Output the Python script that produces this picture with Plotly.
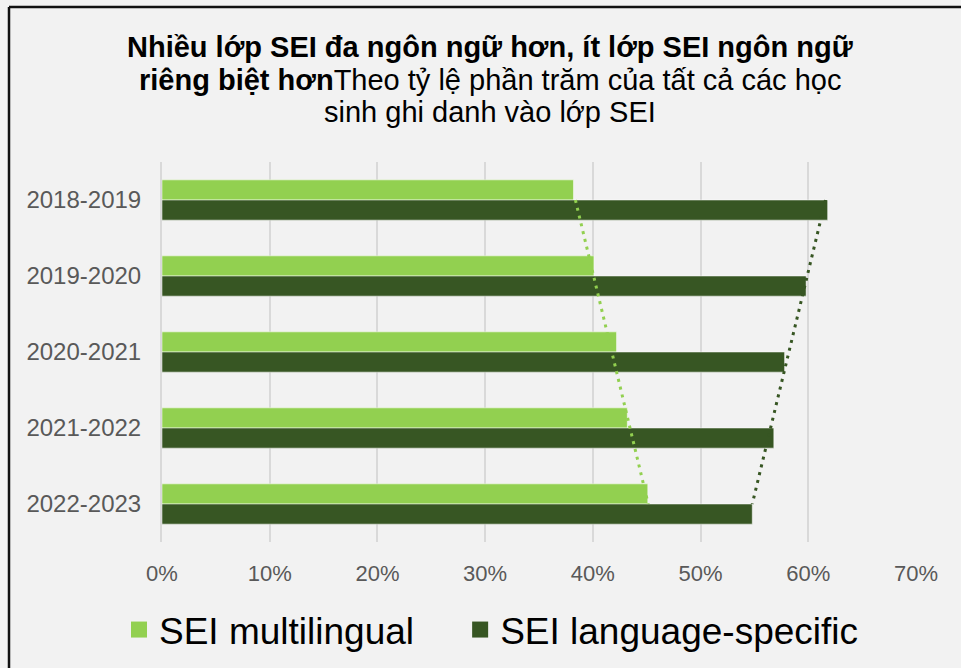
import numpy as np
import plotly.graph_objects as go

years = ["2018-2019", "2019-2020", "2020-2021", "2021-2022", "2022-2023"]
multilingual = [38.2, 40.1, 42.2, 43.2, 45.1]
language_specific = [61.8, 59.8, 57.8, 56.8, 54.8]
x_ticks = [0, 10, 20, 30, 40, 50, 60, 70]
x_tick_labels = ["0%", "10%", "20%", "30%", "40%", "50%", "60%", "70%"]
series_names = ["SEI multilingual", "SEI language-specific"]
title_lines = [
    "<b>Nhiều lớp SEI đa ngôn ngữ hơn, ít lớp SEI ngôn ngữ</b>",
    "<b>riêng biệt hơn</b>Theo tỷ lệ phần trăm của tất cả các học",
    "sinh ghi danh vào lớp SEI",
]

LIGHT = "#92d050"
DARK = "#375623"
FONT = "Liberation Sans, Arial, sans-serif"

# linear trendlines (as in the original chart)
idx = np.arange(len(years))
fit_m = np.polyval(np.polyfit(idx, multilingual, 1), idx)
fit_l = np.polyval(np.polyfit(idx, language_specific, 1), idx)

L, R, T, B = 162, 45, 162, 126
W, H = 961, 668
pw, ph = W - L - R, H - T - B

def px(x):
    return (x - L) / pw

def py(y):
    return (H - B - y) / ph

fig = go.Figure()
fig.add_trace(go.Bar(y=years, x=multilingual, orientation="h", name=series_names[0], showlegend=False,
                     marker=dict(color=LIGHT, line=dict(color="rgba(255,255,255,0.5)", width=1))))
fig.add_trace(go.Bar(y=years, x=language_specific, orientation="h", name=series_names[1], showlegend=False,
                     marker=dict(color=DARK, line=dict(color="rgba(255,255,255,0.5)", width=1))))
fig.add_trace(go.Scatter(y=years, x=fit_m, mode="lines", showlegend=False, hoverinfo="skip",
                         line=dict(color=LIGHT, width=3, dash="3px,5px")))
fig.add_trace(go.Scatter(y=years, x=fit_l, mode="lines", showlegend=False, hoverinfo="skip",
                         line=dict(color=DARK, width=3, dash="3px,5px")))
# legend entries (square swatches)
legend_labels = [series_names[0] + "\u00a0\u00a0\u00a0\u00a0", series_names[1]]
for name, col in zip(legend_labels, [LIGHT, DARK]):
    fig.add_trace(go.Scatter(y=[None], x=[None], mode="markers", name=name,
                             marker=dict(symbol="square", size=16, color=col)))

fig.update_layout(
    width=W, height=H,
    margin=dict(l=L, r=R, t=T, b=B, autoexpand=False),
    paper_bgcolor="#f2f2f2", plot_bgcolor="#f2f2f2",
    font=dict(family=FONT, color="#595959"),
    barmode="group", bargap=0.47, bargroupgap=0,
    xaxis=dict(range=[0, 70], tickvals=x_ticks, ticktext=x_tick_labels,
               showgrid=True, gridcolor="#d9d9d9", gridwidth=1.5, zeroline=False,
               showline=False, ticks="", ticklabelstandoff=16,
               tickfont=dict(size=22, color="#595959")),
    yaxis=dict(autorange="reversed", showgrid=False, showline=True, linecolor="#d9d9d9",
               linewidth=2, ticks="", ticklabelstandoff=14,
               tickfont=dict(size=24, color="#595959")),
    legend=dict(orientation="h", x=119 / W, xref="container", xanchor="left",
                y=1 - 630 / H, yref="container", yanchor="middle",
                font=dict(family=FONT, size=37, color="#000000"),
                bgcolor="rgba(0,0,0,0)", itemwidth=30, traceorder="normal",
                entrywidth=0),
    showlegend=True,
)

for text, yc in zip(title_lines, [47, 80, 112]):
    fig.add_annotation(text=text, xref="paper", yref="paper", x=px(490), y=py(yc),
                       xanchor="center", yanchor="middle", showarrow=False,
                       font=dict(family=FONT, size=29, color="#000000"))

fig.add_shape(type="line", xref="paper", yref="paper", x0=px(9), x1=px(980), y0=py(7), y1=py(7),
              line=dict(color="#111111", width=2.5))
fig.add_shape(type="line", xref="paper", yref="paper", x0=px(9), x1=px(9), y0=py(7), y1=py(690),
              line=dict(color="#111111", width=2.5))

fig.write_html("out.html", post_script="document.body.style.margin='0px';",
               config={"displayModeBar": False})
